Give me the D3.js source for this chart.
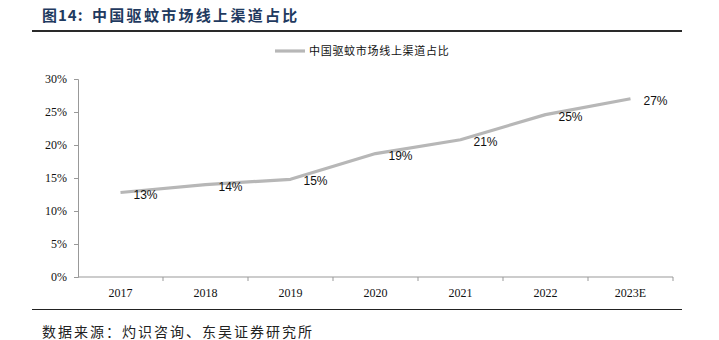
<!DOCTYPE html>
<html><head><meta charset="utf-8">
<script src="https://cdn.jsdelivr.net/npm/d3@7"></script>
<style>body{margin:0;background:#fff;}svg{display:block;}</style>
</head><body>
<svg id="chart" width="719" height="340"></svg>
<script>
const categories = ["2017","2018","2019","2020","2021","2022","2023E"];
const values = [12.8, 14.0, 14.8, 18.7, 20.8, 24.6, 27.0];
const labels = ["13%","14%","15%","19%","21%","25%","27%"];
const yTicks = [0,5,10,15,20,25,30];
const seriesName = "中国驱蚊市场线上渠道占比";
const titlePrefix = "图14:";
const titleText = "中国驱蚊市场线上渠道占比";
const sourceText = "数据来源：灼识咨询、东吴证券研究所";

const svg = d3.select("#chart");
const serif = "'Liberation Serif','Times New Roman',serif";
const cjk = "'Noto Sans CJK SC',sans-serif";

// title
svg.append("text").attr("x",42).attr("y",21)
  .attr("font-family",cjk).attr("font-weight","bold").attr("font-size",15)
  .attr("fill","#1F3A60").attr("letter-spacing",1).text(titlePrefix);
svg.append("text").attr("x",92).attr("y",21)
  .attr("font-family",cjk).attr("font-weight","bold").attr("font-size",15)
  .attr("fill","#1F3A60").attr("letter-spacing",2.3).text(titleText);
svg.append("line").attr("x1",32).attr("x2",682).attr("y1",31).attr("y2",31)
  .attr("stroke","#2a2a2a").attr("stroke-width",2);

// source
svg.append("line").attr("x1",32).attr("x2",682).attr("y1",309.5).attr("y2",309.5)
  .attr("stroke","#222").attr("stroke-width",1);
svg.append("text").attr("x",42).attr("y",337)
  .attr("font-family",cjk).attr("font-size",14).attr("fill","#222")
  .attr("letter-spacing",2).text(sourceText);

const x = d3.scaleBand().domain(categories).range([78,673]);
const y = d3.scaleLinear().domain([0,30]).range([277,79]);

// y axis
const yAxis = svg.append("g").attr("transform","translate(78,0)")
  .call(d3.axisLeft(y).tickValues(yTicks).tickFormat(d=>d+"%").tickSizeOuter(0).tickSize(4).tickPadding(7));
yAxis.selectAll("path,line").attr("stroke","#999");
yAxis.selectAll("text").attr("font-family",serif).attr("font-size",12).attr("fill","#111");

// x axis with ticks at band boundaries
const xg = svg.append("g").attr("transform","translate(0,277)");
xg.append("line").attr("x1",78).attr("x2",673).attr("stroke","#999");
const bounds = categories.map(c=>x(c)+x.bandwidth());
xg.selectAll("line.tk").data(bounds).enter().append("line").attr("class","tk")
  .attr("x1",d=>d).attr("x2",d=>d).attr("y1",0).attr("y2",4).attr("stroke","#999");
xg.selectAll("text").data(categories).enter().append("text")
  .attr("x",d=>x(d)+x.bandwidth()/2).attr("y",20).attr("text-anchor","middle")
  .attr("font-family",serif).attr("font-size",12).attr("fill","#111").text(d=>d);

// line
const pts = categories.map((c,i)=>({c, v:values[i], l:labels[i]}));
const line = d3.line().x(d=>x(d.c)+x.bandwidth()/2).y(d=>y(d.v));
svg.append("path").datum(pts).attr("d",line).attr("fill","none")
  .attr("stroke","#B7B7B7").attr("stroke-width",3.2).attr("stroke-linejoin","round");

svg.selectAll("text.lab").data(pts).enter().append("text").attr("class","lab")
  .attr("x",d=>x(d.c)+x.bandwidth()/2+25).attr("y",d=>y(d.v)+6)
  .attr("text-anchor","middle").attr("font-family","'Liberation Sans',Arial,sans-serif")
  .attr("font-size",12).attr("fill","#111").text(d=>d.l);

// legend
svg.append("line").attr("x1",275).attr("x2",305).attr("y1",51).attr("y2",51)
  .attr("stroke","#B7B7B7").attr("stroke-width",3.2);
svg.append("text").attr("x",309).attr("y",55).attr("font-family",cjk)
  .attr("font-size",11).attr("fill","#111").attr("letter-spacing",0.7).text(seriesName);
</script>
</body></html>
